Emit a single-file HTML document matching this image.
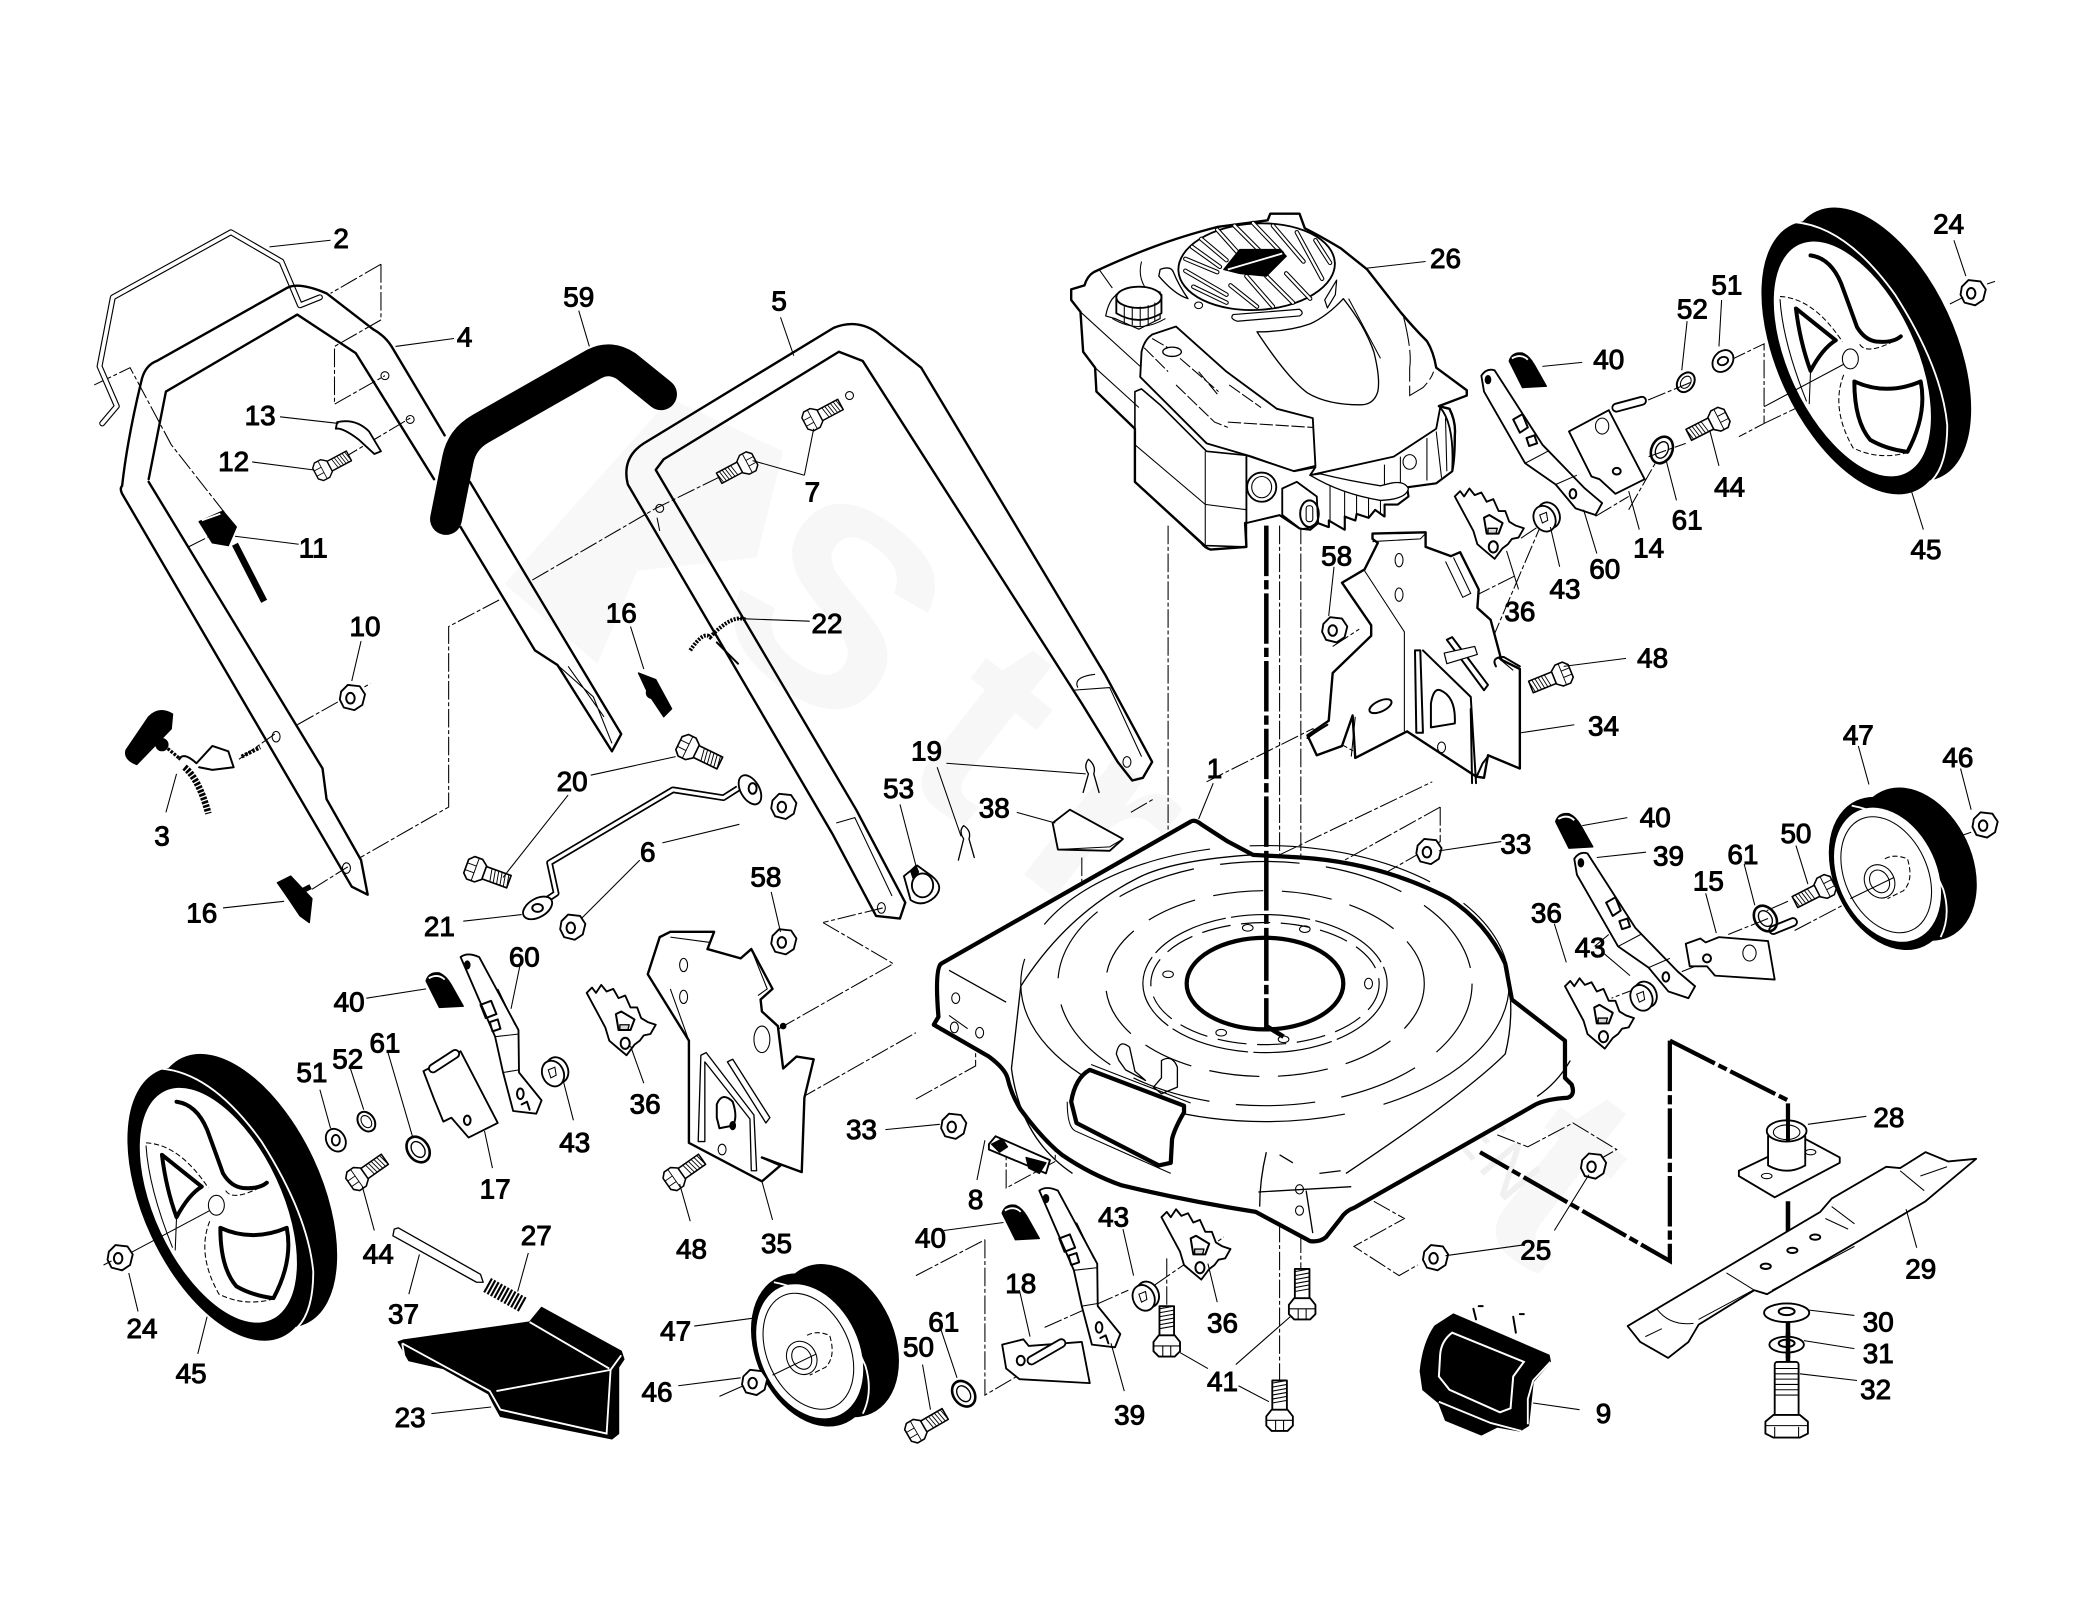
<!DOCTYPE html>
<html lang="en"><head><meta charset="utf-8"><title>Lawn mower parts diagram</title>
<style>
html,body{margin:0;padding:0;background:#fff}
svg{display:block}
text.n{font:400 21px "Liberation Sans",sans-serif;fill:#000;stroke:#000;stroke-width:.75;text-anchor:middle}
.p{fill:#fff;stroke:#000;stroke-width:1.4;stroke-linejoin:round;stroke-linecap:round}
.t{fill:none;stroke:#000;stroke-width:.8}
.o{fill:none;stroke:#000;stroke-width:1.5;stroke-linejoin:round;stroke-linecap:round}
.h{fill:none;stroke:#000;stroke-width:3;stroke-linejoin:round;stroke-linecap:round}
.d{fill:none;stroke:#000;stroke-width:.8;stroke-dasharray:14 2 3 2}
.k{fill:#000;stroke:#000;stroke-width:1;stroke-linejoin:round}
.w{fill:none;stroke:#fff;stroke-width:1.4}
.ax{fill:none;stroke:#000;stroke-width:3.4;stroke-dasharray:38 3 7 3}
.sb{fill:none;stroke:#000;stroke-width:3.4;stroke-linecap:round}
.sw{fill:none;stroke:#fff;stroke-width:1.8;stroke-linecap:round}
</style></head><body>
<svg xmlns="http://www.w3.org/2000/svg" width="2080" height="1619" viewBox="0 0 1567 1219.7">
<defs>
<g id="bolt"><rect class="p" x="-5.5" y="-30" width="11" height="26"/><path class="t" d="M-5.5-28 5.5-30M-5.5-25 5.5-27M-5.5-22 5.5-24M-5.5-19 5.5-21M-5.5-16 5.5-18M-5.5-13 5.5-15"/><path class="p" d="M-10-3-6-8 6-8 10-3 10 4 6 8-6 8-10 4Z"/><path class="t" d="M-3 8V0M3 8V0M-10 0H10"/></g>
<g id="nut"><path class="p" d="M-8-4-3-9 6-8 10-2 8 6 2 10-6 8-9 2Z"/><ellipse class="o" cx="-1" cy="1" rx="3.2" ry="4"/><path class="t" d="M-6-6-3-9"/></g>
<g id="wash"><ellipse class="p" cx="0" cy="0" rx="7" ry="9" transform="rotate(-30)"/><ellipse class="p" cx="0" cy="0" rx="3" ry="4"/></g>
<g id="ring"><ellipse class="o" cx="0" cy="0" rx="6" ry="8" transform="rotate(-35)"/><ellipse class="t" cx="0" cy="0" rx="3.5" ry="5" transform="rotate(-35)"/></g>
<g id="spacer"><ellipse class="p" cx="2" cy="0" rx="8" ry="10" transform="rotate(-25)"/><ellipse class="p" cx="-2" cy="1" rx="8" ry="10" transform="rotate(-25)"/><path class="t" d="M-5-1 0-3 1 3-3 5Z"/></g>
<g id="cam"><path class="p" d="M0 6 4 2 7 6 11 0 15 5 20 3 24 10 29 8 33 17 38 17 41 25 46 28 52 30 48 37 43 38 40 42 36 45 30 53 24 48 17 42 14 32Z"/><path class="o" d="M22 22 26 20 36 26 33 34 24 34Z"/><path class="k" d="M25 30 32 30 31 34 25 34Z" fill-opacity=".15"/><ellipse class="o" cx="29" cy="44" rx="3.4" ry="4.2"/></g>
<g id="knob"><path class="k" d="M0 7Q2 0 10 1 15 3 19 10L28 26 10 27Z"/><path class="w" d="M2 5Q9 1 14 6"/></g>
<g id="arm"><path class="p" d="M347 721Q352 717 361 721L390.600 776 391 808 408 829 404 839 386.600 837 379 808 373 781Z"/><ellipse class="k" cx="352" cy="727" rx="2" ry="3"/><path class="o" d="M362 757 370 754 374 764 366 767ZM369 770 375 768 377 775 371 777Z"/><path class="t" d="M373 781 391 779M379 808 391 806M375 745 388 772"/><ellipse class="o" cx="392" cy="824" rx="2.500" ry="4"/><path class="o" d="M393 832 397 830 399 836"/></g>
<g id="rw">
<ellipse class="k" cx="184" cy="897" rx="57" ry="110" transform="rotate(-25 184 897)"/>
<ellipse class="k" cx="166" cy="907" rx="57" ry="110" transform="rotate(-25 166 907)"/>
<path class="w" d="M121 805Q160 808 197 860 232 915 236 958 236 988 224 1000"/>
<ellipse fill="#fff" cx="164.500" cy="908" rx="48" ry="95" transform="rotate(-25 164.500 908)"/>
<path class="h" d="M133 830Q148 832 156 851 163 870 168 884 174 894 183 895 195 896 201 891"/>
<path class="h" d="M122 870 152 894Q142 900 133 917 125 895 122 870Z"/>
<path class="h" d="M166 925Q190 936 216 925 221 950 206 978 190 976 178 969 166 955 166 925Z"/>
<ellipse class="t" cx="163" cy="908" rx="6" ry="7.500" stroke-width="1"/>
<path class="t" stroke-dasharray="4 2" d="M110 861Q135 862 157 895M170 897Q175 905 195 895 M158 920Q148 945 165 975 185 985 208 978"/>
<path class="t" d="M110 863Q112 895 130 940M133 917 132 942M98 944 158 912"/>
</g>
<g id="fw">
<ellipse class="k" cx="1443" cy="651" rx="42" ry="60" transform="rotate(-25 1443 651)"/>
<ellipse class="k" cx="1424" cy="658" rx="42" ry="60" transform="rotate(-25 1424 658)"/>
<path class="w" d="M1395 607Q1440 615 1464 670 1470 690 1462 706"/>
<ellipse fill="#fff" cx="1422" cy="659" rx="37" ry="53" transform="rotate(-25 1422 659)"/>
<ellipse class="t" cx="1421" cy="659" rx="31" ry="46" transform="rotate(-25 1421 659)"/>
<ellipse class="t" cx="1416" cy="664" rx="11" ry="13" transform="rotate(-30 1416 664)"/>
<ellipse class="t" cx="1416" cy="664" rx="7" ry="9" transform="rotate(-30 1416 664)"/>
<path class="t" stroke-dasharray="4 2" d="M1420 647Q1427 643 1437 647 1442 663 1434 671L1422 677"/>
<path class="t" d="M1394 677 1427 661"/>
</g>
</defs>

<!-- watermark -->
<path d="M380 440 505 300 590 340 570 420 480 430 450 500Z" fill="#f8f8f8"/>
<text x="530" y="470" transform="rotate(38 530 470)" font-family="Liberation Sans,sans-serif" font-weight="700" font-size="210" textLength="800" fill="#f7f7f7">Street</text>
<text x="982" y="724" transform="rotate(50 982 724)" font-family="Liberation Sans,sans-serif" font-size="52" fill="#f0f0f0" textLength="240">GARDEN</text>

<!-- assembly lines -->
<path class="d" d="M287 199 249 221M287 199V241L252 261V304.500L290 283M71 290 98 277 129 335 169 386M257 346 309 315M142 412 166 400M224 546 279 515M180 572 207 553M235 670 262 653M376 452 338 472V608L271.500 646M401 437 494 383 555 353M497 400 495 390"/>
<path class="d" d="M620 695 673 726 585 776M602 828 690 778M690 828 735 803V787M795 833 861 797V814M795 833V875L758 895V869M742 934V1051L766 1037M690 961 742 934M1085 608V634L1043 658M1085 608 1013 648M1128 855 1151 864 1185 846 1218 866 1197 878M1035 905 1058 918 1020 939 1054 961 1068 953M880 396V741M980 396V812M964 396V644M964 922V1045M815 646V739M980 930V958M879 948V988M1004 487 1024 474M1004 539 1124 489M909 589 989 549 1020 566M1004 549 1126 504M964 644 1079 589M852 612 869 602M665 684 620 695M1124 482 1162 393M1141 434 1111 449M1175 386 1145 406M1302 272 1329 259 1329 319 1310 329M1329 319 1392 289M1274 288 1240 302M1242 344 1270 334M1352 701 1394 679M1332 692 1302 704M1347 679 1331 686M1227 384 1247 349M1202 389 1227 374M1235 744 1214 752M1212 704 1200 714M1267 732 1282 726M760 1030 778 1020M787 1000 850 972M870 968 922 932"/>
<path class="ax" d="M954 396V646"/>
<path fill="none" stroke="#000" stroke-width="3.200" stroke-dasharray="38 3 7 3" d="M1258 784V950L1115 868M1258 784 1347 829V860"/>
<path class="ax" d="M1347 905V960M1347 985V1035"/>

<!-- wire 2 -->
<path fill="none" stroke="#000" stroke-width="4.500" stroke-linejoin="round" stroke-linecap="round" d="M77 319 88 306 75 276 85 224 174 175 212 197 226 230 241 224"/>
<path fill="none" stroke="#fff" stroke-width="2.800" stroke-linejoin="round" stroke-linecap="round" d="M77 319 88 306 75 276 85 224 174 175 212 197 226 230 241 224"/>

<!-- handle 4 -->
<path class="o" fill="#fff" style="stroke-width:1.800" d="M92 366Q96 330 107 285 110 275 118 272L216 217Q225 212 246 221L281 248Q290 253 295 261L335 328M112 361 125 295 224 237 268 266 327 361M112 363 243 579 246 602 272 648 277 674 265 668 92 372Q90 368 92 366M354 363 468 553 461 566 420 501 403 490 347 397"/>
<path class="t" d="M420 501 447 525 461 560M428 502 455 540"/>
<circle class="t" cx="290" cy="283" r="3"/><circle class="t" cx="309" cy="316" r="3"/><ellipse class="t" cx="208" cy="555" rx="3" ry="4"/><ellipse class="t" cx="261" cy="654" rx="3" ry="4"/>

<!-- grip 59 -->
<path fill="none" stroke="#000" stroke-width="24" stroke-linecap="round" stroke-linejoin="round" d="M336 391 345 346Q348 331 362 323L448 274Q460 268 472 276L498 297"/>

<!-- handle 5 -->
<path class="o" fill="#fff" style="stroke-width:1.800" d="M473 365Q468 345 485 334L628 247Q645 240 660 250L694 277 833 509 868 574 861 586 853 588 842 574 815 530 650 272 632 265 500 346 494 354 645 610 682 680 678 692 660 690 627 628Z"/>
<path class="t" d="M808 520 836 518 860 570M812 518Q808 510 825 508"/>
<ellipse class="t" cx="849" cy="574" rx="3" ry="4"/><ellipse class="t" cx="664" cy="684" rx="3" ry="4"/><ellipse class="t" cx="497" cy="383" rx="3" ry="3"/><ellipse class="t" cx="640" cy="298" rx="3" ry="3"/>
<path class="t" d="M630 620 644 616 672 675"/>

<!-- small controls left -->
<path class="p" d="M254 318Q268 315 278 325L287 340 282 342 270 331Q258 322 253 323Z"/>
<use href="#bolt" transform="translate(243 354) rotate(62) scale(.75)"/>
<path class="k" d="M150 393 168 385 178 397 172 411 160 409Z"/>
<path class="w" d="M152 392 166 387"/>
<path stroke="#000" stroke-width="5" d="M177 410 199 453"/>
<use href="#nut" transform="translate(265 525)"/>
<path class="k" d="M95 565 112 540Q120 532 130 538L129 549 103 576Q93 572 95 565Z"/>
<circle class="k" cx="122" cy="561" r="4.500"/><path stroke="#000" stroke-width="2.500" stroke-dasharray="2 1" d="M124 562 136 572"/>
<path class="o" d="M135 572Q138 566 148 575L160 562 172 566 176 578 160 580 150 578"/>
<path stroke="#000" stroke-width="5" stroke-dasharray="2 1" fill="none" d="M139 578Q150 587 157 613"/>
<path stroke="#000" stroke-width="3" stroke-dasharray="2 1" d="M182 570 196 563"/>
<path class="k" d="M209 665 219 660 235 677 233 695 226 690 218 678Z"/>
<path stroke="#000" stroke-width="4" d="M222 674 234 668"/>
<path class="k" d="M481 507 494 512 506 534 500 540 488 522Z"/>
<circle class="k" cx="491" cy="522" r="4"/>
<use href="#bolt" transform="translate(518 563) rotate(116) scale(.9)"/>
<use href="#bolt" transform="translate(358 655) rotate(110) scale(.9)"/>
<use href="#bolt" transform="translate(563 349) rotate(-118) scale(.8)"/>
<use href="#bolt" transform="translate(612 316) rotate(62) scale(.8)"/>
<path fill="none" stroke="#000" stroke-width="3" stroke-dasharray="1.500 1" d="M520 490Q530 475 535 480 552 462 562 467"/>
<path class="o" d="M540 484 556 500"/>
<path fill="none" stroke="#000" stroke-width="5" stroke-linejoin="round" d="M404 683 419 673 414 650 507 595 545 601 556 594"/>
<path fill="none" stroke="#fff" stroke-width="2.400" stroke-linejoin="round" d="M404 683 419 673 414 650 507 595 545 601 556 594"/>
<ellipse class="p" cx="405" cy="684" rx="12" ry="7" transform="rotate(-30 405 684)"/><ellipse class="o" cx="405" cy="684" rx="4" ry="3"/>
<ellipse class="p" cx="565" cy="595" rx="7" ry="12" transform="rotate(-30 565 595)"/><ellipse class="o" cx="567" cy="594" rx="3" ry="4"/>
<use href="#nut" transform="translate(431 698)"/><use href="#nut" transform="translate(590 607)"/><use href="#nut" transform="translate(590 709)"/>
<path class="p" d="M681 660 691 652 702 660Q712 668 704 676 695 684 686 678Z"/><ellipse class="p" cx="695" cy="667" rx="8" ry="9"/><path class="k" d="M686 656 690 652 692 657 688 662Z"/>
<path class="o" d="M820 583Q816 577 820 572 826 577 824 583L828 597M820 583 816 597" style="stroke-width:1"/>
<path class="o" d="M726 632Q722 626 726 622 732 626 730 632L734 646M726 632 722 648" style="stroke-width:1"/>
<path class="p" d="M793 620 806 610 846 632 836 641 797 640Z"/><path class="t" d="M797 640 836 638 846 632"/>

<!-- engine -->
<path class="p" style="stroke-width:1.800" d="M807 218 817 215Q819 208 824 205Q845 195 869 186 890 178 917 171L955 166 957 161 979 161 983 172Q995 178 1010 187 1020 195 1030 203L1055 235Q1065 247 1075 257 1080 265 1082 277L1105 294V298L1084 306 1092 308Q1097 318 1096 328 1096 345 1094 355L1082 364 1060 367 1061 374 1053 380H1043V389L1036 384 1031 390 1022 387 1021 392 1013 389V399L1001 392V397L993 394 987 399 979 398 964 388 938 394 939 412 912 414Q908 413 905 409L855 363V323L826 295 825 277 816 265 814 235 807 226Z"/>
<ellipse class="p" cx="946.700" cy="200.900" rx="59" ry="32.600" transform="rotate(-3 946.700 200.900)"/>
<path class="sb" d="M917 173 934 192M905 180 924 196M898 186 919 201M893 195 917 205M893 204 924 222M899 216 924 228M930 170 952 192M944 168 966 191M959 170 982 197M977 175 996 210M991 181 1002 198M939 208 959 231M954 208 974 228M969 206 987 225M927 215 947 231"/>
<path class="sw" d="M917 173 934 192M905 180 924 196M898 186 919 201M893 195 917 205M893 204 924 222M899 216 924 228M930 170 952 192M944 168 966 191M959 170 982 197M977 175 996 210M991 181 1002 198M939 208 959 231M954 208 974 228M969 206 987 225M927 215 947 231"/>
<path class="k" d="M922 203 934 188 964 188 969 193 954 208 934 206Z"/>
<path class="w" d="M925 203 966 191" stroke-width="1.600"/>
<path class="p" d="M929 237 979 233Q983 236 979 238L932 242Q926 240 929 237Z" style="stroke-width:.9"/>
<path class="p" d="M1000 232 1006 222 1007 211 998 226Z" style="stroke-width:.9"/>
<path class="o" d="M874 203Q882 200 884 205 888 215 895 225 885 222 873 208Z" style="stroke-width:1"/>
<ellipse class="t" cx="903" cy="230" rx="3" ry="2.500"/>
<path class="t" d="M860 197Q857 208 863 217M828 203 838 217M814 235 859 276M825 277 858 307"/>
<path class="o" d="M947 250Q970 250 987 244 1000 238 1012 225 1028 245 1035 265 1040 285 1038 295 1035 305 1025 305 1000 305 985 296 970 285 947 250Z" style="stroke-width:1"/>
<path class="t" d="M1016 225 1040 270"/>
<path class="t" stroke-dasharray="24 3" d="M1057 237Q1064 265 1062 277L1062 298 1072 292Q1078 286 1080 280"/>
<path class="p" d="M833 238Q836 222 846 220H874L874 240 858 248 840 240Z" style="stroke-width:.9"/>
<path class="p" d="M841 232V222Q858 212 875 222V236Q858 246 841 236Z"/><ellipse class="p" cx="858" cy="224" rx="17" ry="8"/><path class="t" d="M847 230V244M853 231V245M859 231V246M865 230V245M870 228V242"/>
<path class="t" d="M838 240Q858 252 878 240"/>
<path class="p" d="M859 284 860 265Q862 256 868 252L886 246 924 280 962 308 989 315 991 351 974 355 943 344 909 334 874 299Z"/>
<path class="t" d="M862 262 880 280M868 255 880 262M889 270 918 295M903 280 918 298M926 290 950 307M886 290 915 318 925 322M925 318 989 322" stroke-dasharray="10 2"/>
<ellipse class="o" cx="883" cy="265" rx="7" ry="3.500" style="stroke-width:1"/>
<path class="o" d="M855 295V363L908 411 939 412V343L909 340 874 305 860 293Z" style="stroke-width:1.200" fill="#fff"/>
<path class="t" d="M855 335 908 380 939 384M908 340V411"/>
<path class="p" d="M939 343 975 355 991 352 987 358 1050 344 1082 323 1085 307Q1096 320 1094 355L1082 364 1060 367 1061 374 1053 380H1043V389L1036 384 1031 390 1022 387 1021 392 1013 389V399L1001 392V397L993 394 987 399 979 398 964 388 939 394Z"/>
<path class="t" d="M1002 364V392M1013 367V392M1022 369V388M1031 372V390M1040 374V388M1043 350V370M1055 344V366M1075 330V362M1082 325 1086 360M1089 315 1090 355"/>
<ellipse class="t" cx="1062" cy="348" rx="5" ry="5.500"/>
<path class="p" d="M987 358Q1010 372 1040 377 1060 376 1061 368 1058 362 1048 364L1040 366Q1015 362 995 357Z" style="stroke-width:1"/>
<path class="p" d="M966 368 977 363 992 374 993 393Q985 400 979 398L966 388Z"/><ellipse class="o" cx="986.500" cy="387" rx="7" ry="10"/><rect class="t" x="984" y="381" width="5" height="12" rx="2"/>
<ellipse class="p" cx="950.500" cy="367" rx="11" ry="11"/><ellipse class="t" cx="950.500" cy="367" rx="7.500" ry="8"/>

<!-- bracket 34 -->
<path class="p" style="stroke-width:1.800" d="M1034 402 1074 401 1074 412 1093 419 1100 416 1114 444 1113 458 1123 467 1131 497 1145 504 1145 579 1121 569 1118 586 1112 585 1060 551 1021 571 1019 539 1011 562 992 569 985 554 1001 543 1004 507 1033 479 1033 471 1011 439 1028 429 1038 409 1034 406Z"/>
<path class="t" d="M1028 430 1058 476V551M1034 408 1070 406 1074 402M1095 420 1108 447 1102 450 1089 423M1128 495 1140 505M1021 540 1018 570"/>
<ellipse class="t" cx="1054" cy="422" rx="3" ry="5"/><ellipse class="t" cx="1054" cy="448" rx="3" ry="5"/><ellipse class="o" cx="1040" cy="532" rx="9" ry="4" transform="rotate(-25 1040 532)"/>
<path class="o" d="M1066 490 1070 490 1072 552H1067ZM1090 482 1094 480 1121 516 1118 520ZM1072 490 1108 525 1112 590M1108 534 1109 590M1078 530Q1080 518 1085 520 1097 525 1096 545L1078 548Z"/>
<path class="p" d="M1088 492 1111 487 1113 493 1090 500Z" style="stroke-width:.9"/><ellipse class="t" cx="1086" cy="563" rx="3" ry="4"/>
<path class="o" d="M1127 502Q1123 495 1133 495L1145 502M985 556Q990 552 1000 546M1112 586 1117 575 1121 570"/>

<!-- bracket 35 -->
<path class="p" style="stroke-width:1.800" d="M497 706 505 702 538 702 533 715 558 722 566 715 582 745 573 753 574 762 586 773 590 805 600 796 613 798 606 827 604 883 574 872 588 878 574 890 519 861 519 784 488 734Z"/>
<path class="t" d="M519 784 505 745M566 715 578 745 571 750M535 710 505 706"/>
<ellipse class="t" cx="515" cy="727" rx="3" ry="5"/><ellipse class="t" cx="515" cy="751" rx="3" ry="5"/><ellipse class="t" cx="574" cy="783" rx="6" ry="10"/>
<path class="o" d="M528 795 532 793 568 840 570 882H566L565 843 531 800 531 860H526ZM548 800 552 798 580 842 577 846Z" style="stroke-width:1"/>
<path class="o" d="M540 842V832Q544 822 552 830 556 842 552 848L542 850Z"/><ellipse class="t" cx="544" cy="866" rx="3" ry="4"/><ellipse class="k" cx="552" cy="848" rx="2" ry="3"/>
<circle class="k" cx="590" cy="773" r="2"/>

<!-- deck -->
<path fill="#fff" stroke="#000" stroke-width="3.200" stroke-linejoin="round" d="M897 619 709 726Q704 730 707 766L703.500 772 745 796Q757 805 759 812 762 825 769 836 785 858 800 870 822 885 845 893 895 905 946 913L987 935Q994 936 999 932L1010 918Q1014 912 1020 910L1157 832Q1165 828 1181 827 1187 825 1184 817L1179 812V784L1139 753 1134 726Q1120 695 1091 676.500 1040 650 980 646L944 644 925 634 905 621Q900 617 897 619Z"/>
<path class="t" style="stroke-width:1" d="M944 644Q884 648 858 661 804 688 769 743L762 805M1183 799Q1173 816 1158 826M1138 754Q1139 774 1134 794 1104 824 1014 884M715 731 758 755M762 805Q769 858 808 884M948 898 1018 894M984 897 989 929M994 884 1010 882M954 868Q949 889 949 909M964 870 974 876"/>
<g fill="none" stroke="#000" stroke-width=".9">
<ellipse cx="953" cy="741" rx="92" ry="52" stroke-dasharray="60 4"/>
<ellipse cx="953" cy="741" rx="86" ry="46" stroke-dasharray="22 8"/>
<ellipse cx="953" cy="741" rx="120" ry="70" stroke-dasharray="38 14"/>
<ellipse cx="953" cy="741" rx="156" ry="92" stroke-dasharray="60 20"/>
<ellipse cx="953" cy="741" rx="184" ry="104" stroke-dasharray="140 30"/>
</g>
<ellipse cx="953" cy="741" rx="59" ry="34.500" fill="#fff" stroke="#000" stroke-width="3.200"/>
<path fill="#fff" stroke="#000" stroke-width="3.200" stroke-linejoin="round" d="M821 806 892 833V838Q885 850 883 858L882 876 873 878 811 846 807 830Q810 812 821 806Z"/>
<path class="t" d="M822 802 897 831M804 830Q804 849 810 852L882 884"/>
<path class="o" d="M841 794Q843 782 851 789L855 807 863 814 848 806 843 799Z M875 812 875 799Q883 794 887 804V819L875 824 869 819Z" style="stroke-width:1"/>
<path class="t" d="M715 765 729 775"/>
<ellipse class="t" cx="720" cy="752" rx="3" ry="4"/><ellipse class="t" cx="719" cy="774" rx="3" ry="4"/><ellipse class="t" cx="738" cy="778" rx="3" ry="4"/>
<ellipse class="t" cx="880" cy="734" rx="4" ry="2.500"/><ellipse class="t" cx="1031" cy="741" rx="3" ry="4"/><ellipse class="t" cx="940" cy="699" rx="4" ry="2.500"/><ellipse class="t" cx="983" cy="700" rx="4" ry="2.500"/><ellipse class="t" cx="920" cy="778" rx="4" ry="2.500"/><ellipse class="t" cx="967" cy="783" rx="4" ry="2.500"/>
<ellipse class="t" cx="979" cy="896" rx="3" ry="3.500"/><ellipse class="t" cx="979" cy="912" rx="3" ry="3.500"/>
<path fill="none" stroke="#000" stroke-width="3.400" stroke-dasharray="40 3 7 3" d="M954 646V773L967 781"/>

<!-- 8 -->
<path class="p" d="M745 862 750 856 791 874 788 884 781 881 745 866Z"/><path class="k" d="M747 862 755 858 759 864 753 868ZM773 872 788 876 783 884 775 880Z"/>

<!-- wheels -->
<use href="#rw"/>
<use href="#rw" transform="translate(1231 -637.600)"/>
<use href="#fw"/>
<use href="#fw" transform="translate(-812 359)"/>
<use href="#nut" transform="translate(1486 220)"/><use href="#nut" transform="translate(90 947)"/><use href="#nut" transform="translate(1495 621)"/><use href="#nut" transform="translate(568 1041)"/>
<path class="t" d="M1469 229 1479 224M1497 214 1503 212M78 953 84 950M1456 637 1485 627M542 1052 560 1044"/>

<!-- knobs / cams / arms -->
<use href="#knob" transform="translate(321 732)"/><use href="#knob" transform="translate(1137 265)"/><use href="#knob" transform="translate(1172 612)"/><use href="#knob" transform="translate(755 907)"/>
<use href="#cam" transform="translate(442 742)"/><use href="#cam" transform="translate(1096 368)"/><use href="#cam" transform="translate(1179 737)"/><use href="#cam" transform="translate(875 911)"/>
<use href="#arm"/><use href="#arm" transform="translate(436 176)"/>
<g id="armR"><path class="p" d="M1116 283Q1120 277 1126 279L1162 335 1194 368 1207 379 1202 388 1187 383 1172 365 1149 349 1118 295Z"/><ellipse class="k" cx="1121" cy="286" rx="2" ry="3"/><path class="o" d="M1140 316 1147 312 1151 322 1145 326ZM1150 330 1156 328 1158 334 1152 336Z"/><ellipse class="o" cx="1185" cy="372" rx="2.500" ry="3.500"/><path class="t" d="M1149 349 1166 340M1172 365 1188 358"/></g>
<use href="#armR" transform="translate(70 364)"/>
<use href="#spacer" transform="translate(418 807)"/><use href="#spacer" transform="translate(863 976)"/><use href="#spacer" transform="translate(1165 389)"/><use href="#spacer" transform="translate(1238 750)"/>

<!-- plates -->
<path class="p" d="M319 807 347 792 375 846 353 857 340 842 334 845 327 828Z"/><rect class="p" x="322" y="804" width="26" height="6" rx="3" transform="rotate(-33 322 804)"/><ellipse class="o" cx="352" cy="844" rx="2.500" ry="3.500"/>
<g transform="translate(-3 0)"><path class="p" d="M1185 325 1215 309 1242 361 1220 372 1208 361 1202 359Z"/><ellipse class="t" cx="1210" cy="321" rx="5" ry="6"/><ellipse class="o" cx="1221" cy="355" rx="3" ry="2.500"/><rect class="p" x="1217" y="305" width="26" height="6" rx="3" transform="rotate(-15 1217 305)"/></g>
<g transform="translate(-2 0)"><path class="p" d="M1272 711 1283 707 1287 710 1297 706 1334 709 1339 738 1294 735 1288 728 1275 728Z"/><ellipse class="t" cx="1320" cy="718" rx="5" ry="6"/><ellipse class="o" cx="1288" cy="722" rx="3" ry="3"/><rect class="p" x="1334" y="699" width="22" height="6" rx="3" transform="rotate(-22 1334 699)"/></g>
<path class="p" d="M755 1013 771 1009 775 1014 815 1011 821 1042 768 1039 758 1031Z"/><ellipse class="o" cx="769" cy="1025" rx="3" ry="3.500"/><rect class="p" x="776" y="1023" width="32" height="6" rx="3" transform="rotate(-30 776 1029)"/>

<!-- hardware -->
<use href="#wash" transform="translate(253 859)"/><use href="#ring" transform="translate(276 845)"/><use href="#ring" transform="translate(315 866) scale(1.300)"/>
<use href="#wash" transform="translate(1298 272) rotate(70)"/><use href="#ring" transform="translate(1270 288) rotate(70)"/><use href="#ring" transform="translate(1252 339) rotate(60) scale(1.300)"/>
<use href="#ring" transform="translate(1330 692) scale(1.300)"/><use href="#ring" transform="translate(726 1050) scale(1.300)"/>
<use href="#bolt" transform="translate(269 888) rotate(55) scale(.85)"/>
<use href="#bolt" transform="translate(508 888) rotate(55) scale(.85)"/>
<use href="#bolt" transform="translate(1295 316) rotate(-117) scale(.85)"/>
<use href="#bolt" transform="translate(1177 508) rotate(-112) scale(.85)"/>
<use href="#bolt" transform="translate(1375 668) rotate(-117) scale(.85)"/>
<use href="#bolt" transform="translate(690 1078) rotate(60) scale(.85)"/>
<use href="#bolt" transform="translate(879 1014)"/><use href="#bolt" transform="translate(981 986)"/><use href="#bolt" transform="translate(964 1070)"/>
<use href="#nut" transform="translate(1005 474)"/><use href="#nut" transform="translate(718 848)"/><use href="#nut" transform="translate(1076 641)"/><use href="#nut" transform="translate(1200 878)"/><use href="#nut" transform="translate(1081 947)"/>

<!-- 37 / 27 / 23 -->
<path class="p" d="M297 926 300 925 362 960 364 966 359 966 296 931Z" style="stroke-width:1"/>
<path stroke="#000" stroke-width="12" stroke-dasharray="1.600 1.300" fill="none" d="M367 968 394 983"/>
<path class="k" d="M300 1011 304 1009.500 399 996 408 985 468 1018 470 1024 466 1030 466 1080 461 1084 377 1067 372 1058 368 1050 334 1031 308 1025Z"/>
<path class="w" stroke-width="1.800" d="M303 1012 369 1048 377 1062 457 1080 460 1032 468 1021M399 996 459 1031M374 1048 460 1032M303 1012 305 1024"/>

<!-- 9 -->
<path class="k" d="M1081 999 1095 990 1167 1021 1168 1026 1155 1041 1151.500 1074 1145 1078 1128 1075 1116 1081 1089 1070 1084 1057 1072 1047 1070 1033Q1072 1012 1081 999Z"/>
<path fill="none" stroke="#fff" stroke-width="1.500" d="M1084 1037 1085 1020Q1086 1010 1094 1004L1148 1026 1140 1037 1138 1061 1130 1064 1092 1047Z"/>
<path class="w" d="M1168 1026 1155 1040 1151 1054V1073M1084 1056 1123 1072 1146 1078"/>
<path class="o" d="M1110 986 1112 994M1114 984H1117M1140 992 1142 1004M1145 990H1148"/>

<!-- blade -->
<g transform="translate(1357 0) scale(.955 1) translate(-1357 0)">
<path class="p" d="M1220 999 1243 986 1372 913 1381 903 1424 879 1435 880 1455 868 1473 875 1495 873 1455 905 1404 934 1330 975 1320 972 1276 998 1268 1011 1252 1023 1230 1011Z"/>
<path class="t" d="M1243 986Q1253 999 1272 997M1234 1007 1247 1001M1276 994 1319 972M1381 909 1399 922M1376 918 1394 926M1334 972 1399 939M1435 882 1454 897M1451 886 1472 879M1298 959 1320 972"/>
<ellipse class="o" cx="1329" cy="954" rx="4" ry="2"/><ellipse class="o" cx="1350" cy="942" rx="4" ry="2"/><ellipse class="o" cx="1368" cy="932" rx="4" ry="2"/>
</g>
<g transform="translate(-4 0)">
<path class="p" d="M1314 882 1364 858 1390 872 1390 876 1341 902 1314 886Z"/><ellipse class="t" cx="1335" cy="886" rx="4" ry="2"/><ellipse class="t" cx="1368" cy="868" rx="4" ry="2"/>
<path class="p" d="M1336 856V878Q1350 886 1364 878V856Z"/><ellipse class="p" cx="1350" cy="852" rx="15" ry="8"/><ellipse class="t" cx="1350" cy="853" rx="10" ry="5.500"/>
<path stroke="#000" stroke-width="3" d="M1351 832V860"/>
<ellipse class="p" cx="1350" cy="989" rx="17" ry="7"/><ellipse class="o" cx="1350" cy="988" rx="6" ry="2.800"/>
<ellipse class="p" cx="1350" cy="1013" rx="13" ry="6"/><ellipse class="o" cx="1350" cy="1012" rx="6" ry="2.800"/>
<rect class="p" x="1341" y="1026" width="18" height="46" rx="2"/><path class="t" d="M1341 1031h18M1341 1035h18M1341 1039h18M1341 1043h18M1341 1047h18M1341 1051h18"/>
<path class="p" d="M1334 1071 1340 1066H1360L1366 1071V1080L1360 1083 1340 1083 1334 1080Z"/><path class="t" d="M1341 1083V1075M1359 1083V1075M1334 1074H1366"/>
<path stroke="#000" stroke-width="3.400" d="M1351 1004V1026"/>
</g>

<!-- leaders -->
<path class="t" d="M249 181 203 186M342 255 298 261M436 234 444 261M588 239 598 268M211 314 255 319M190 348 236 354M225 410 177 404M606 358 567 347M606 358 613 323M272 483 265 513M475 472 485 504M610 468 556 466M125 612 133 583M445 584 509 570M428 599 379 661M499 635 557 621M482 648 438 692M349 694 393 689M168 684 214 679M713 575 818 583M706 578 724 630M678 606 690 652M766 612 795 620M914 590 903 617M1074 197 1030 202M1005 427 1001 464M1144 444 1135 415M1175 427 1168 397M736 889 742 859M1131 634 1084 641M711 927 756 921M846 926 854 961M768 972 776 1007M917 981 910 952M847 1048 837 1012M910 1031 889 1019M931 1028 972 992M933 1044 956 1056M1190 1062 1155 1057M1147 938 1089 946M1171 927 1197 885M1171 696 1180 725M392 726 385 760M276 752 321 745M485 816 475 788M432 844 424 813M241 821 249 850M264 805 274 836M292 792 311 857M371 880 365 852M282 927 273 894M520 920 512 892M582 919 574 890M667 851 708 847M398 944 390 973M308 975 316 945M104 988 97 959M149 1020 156 992M523 999 568 993M511 1044 558 1038M325 1065 370 1060M695 1028 701 1062M709 1002 721 1038M1271 242 1267 279M1297 226 1295 261M1235 399 1227 370M1203 417 1193 384M1263 377 1255 346M1295 351 1288 324M1449 399 1440 370M1225 496 1178 502M1186 546 1146 552M1400 562 1408 591M1477 579 1485 610M1472 181 1481 208M1192 273 1162 276M1226 616 1192 622M1240 642 1203 646M1314 651 1322 682M1353 637 1362 666M1285 673 1293 703M1208 718 1228 735M1406 841 1362 847M1444 940 1436 911M1397 991 1363 987M1397 1016 1359 1010M1399 1040 1356 1035M581 672 588 702"/>

<!-- labels -->
<g>
<text class="n" x="257" y="187">2</text><text class="n" x="350" y="261">4</text><text class="n" x="436" y="231">59</text><text class="n" x="587" y="234">5</text><text class="n" x="1089" y="202">26</text><text class="n" x="1468" y="176">24</text>
<text class="n" x="196" y="320">13</text><text class="n" x="176" y="355">12</text><text class="n" x="236" y="420">11</text><text class="n" x="612" y="378">7</text><text class="n" x="275" y="479">10</text><text class="n" x="468" y="469">16</text><text class="n" x="623" y="477">22</text>
<text class="n" x="122" y="637">3</text><text class="n" x="431" y="596">20</text><text class="n" x="698" y="573">19</text><text class="n" x="488" y="649">6</text><text class="n" x="677" y="601">53</text><text class="n" x="749" y="616">38</text><text class="n" x="915" y="586">1</text>
<text class="n" x="152" y="695">16</text><text class="n" x="331" y="705">21</text><text class="n" x="577" y="668">58</text><text class="n" x="395" y="728">60</text><text class="n" x="263" y="762">40</text><text class="n" x="486" y="839">36</text><text class="n" x="433" y="868">43</text>
<text class="n" x="235" y="815">51</text><text class="n" x="262" y="805">52</text><text class="n" x="290" y="793">61</text><text class="n" x="373" y="903">17</text><text class="n" x="285" y="952">44</text><text class="n" x="521" y="948">48</text><text class="n" x="585" y="944">35</text>
<text class="n" x="649" y="858">33</text><text class="n" x="735" y="911">8</text><text class="n" x="404" y="938">27</text><text class="n" x="304" y="997">37</text><text class="n" x="107" y="1008">24</text><text class="n" x="144" y="1042">45</text><text class="n" x="509" y="1010">47</text><text class="n" x="495" y="1056">46</text>
<text class="n" x="692" y="1022">50</text><text class="n" x="711" y="1003">61</text><text class="n" x="701" y="940">40</text><text class="n" x="839" y="924">43</text><text class="n" x="769" y="974">18</text><text class="n" x="921" y="1004">36</text><text class="n" x="851" y="1073">39</text><text class="n" x="921" y="1048">41</text>
<text class="n" x="309" y="1075">23</text><text class="n" x="1208" y="1072">9</text><text class="n" x="1157" y="949">25</text><text class="n" x="1142" y="643">33</text><text class="n" x="1212" y="278">40</text><text class="n" x="1275" y="240">52</text><text class="n" x="1301" y="222">51</text>
<text class="n" x="1242" y="420">14</text><text class="n" x="1209" y="436">60</text><text class="n" x="1179" y="451">43</text><text class="n" x="1145" y="468">36</text><text class="n" x="1007" y="426">58</text><text class="n" x="1271" y="399">61</text><text class="n" x="1303" y="374">44</text><text class="n" x="1451" y="421">45</text>
<text class="n" x="1245" y="503">48</text><text class="n" x="1208" y="554">34</text><text class="n" x="1400" y="561">47</text><text class="n" x="1475" y="578">46</text><text class="n" x="1247" y="623">40</text><text class="n" x="1257" y="652">39</text><text class="n" x="1313" y="651">61</text><text class="n" x="1353" y="635">50</text><text class="n" x="1287" y="671">15</text>
<text class="n" x="1165" y="695">36</text><text class="n" x="1198" y="721">43</text><text class="n" x="1423" y="849">28</text><text class="n" x="1447" y="963">29</text><text class="n" x="1415" y="1003">30</text><text class="n" x="1415" y="1027">31</text><text class="n" x="1413" y="1054">32</text>
</g>
</svg>
</body></html>
